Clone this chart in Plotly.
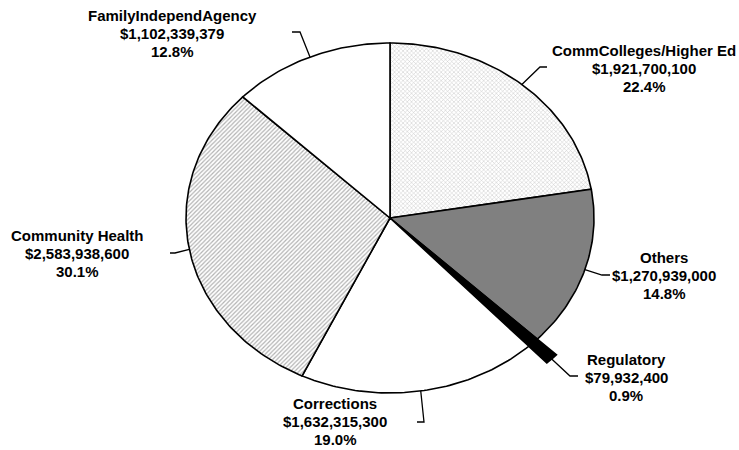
import numpy as np
import plotly.graph_objects as go

# ---- data ----
categories = ["CommColleges/Higher Ed", "Others", "Regulatory", "Corrections",
              "Community Health", "FamilyIndependAgency"]
values = [1921700100, 1270939000, 79932400, 1632315300, 2583938600, 1102339379]

# ---- styling / layout (pixel coordinates on hidden axes) ----
W, H = 739, 450
CX, CY, RX, RY = 390, 218, 204, 175
radius_scale = [1.0, 1.0, 1.13, 1.0, 1.0, 1.0]
fills = [
    dict(fillcolor="white", fillpattern=dict(shape="x", size=3, solidity=0.3, fgcolor="#8a8a8a", bgcolor="white")),
    dict(fillcolor="#808080", fillpattern=None),
    dict(fillcolor="black", fillpattern=None),
    dict(fillcolor="white", fillpattern=None),
    dict(fillcolor="white", fillpattern=dict(shape="/", size=3, solidity=0.4, fgcolor="#666666", bgcolor="white")),
    dict(fillcolor="white", fillpattern=None),
]
# leader elbow and end points, and label line centres
elbows = [(540, 67), (602, 275), (570, 376), (424, 422), (175, 253), (300, 32)]
ends = [(547, 67), (610, 275), (578, 376), (417, 422), (170, 253), (292, 32)]
label_x = [644, 664, 626, 335, 77, 172]
label_y = [50, 257, 359, 403, 235, 15]
LINE_H = 18

total = sum(values)
fig = go.Figure()


def pt(theta, r):
    return CX + RX * r * np.sin(theta), CY - RY * r * np.cos(theta)


cum = 0.0
for i, (cat, v) in enumerate(zip(categories, values)):
    frac = v / total
    t0 = 2 * np.pi * cum
    t1 = 2 * np.pi * (cum + frac)
    cum += frac
    th = np.linspace(t0, t1, max(4, int(400 * frac)))
    r = radius_scale[i]
    ax, ay = pt(th, r)
    xs = np.concatenate([[CX], ax, [CX]])
    ys = np.concatenate([[CY], ay, [CY]])
    kw = dict(x=xs, y=ys, mode="lines", fill="toself",
              line=dict(color="black", width=1.6),
              fillcolor=fills[i]["fillcolor"], hoverinfo="skip", showlegend=False)
    if fills[i]["fillpattern"] is not None:
        kw["fillpattern"] = fills[i]["fillpattern"]
    fig.add_trace(go.Scatter(**kw))

    # leader line from the arc mid-point
    tm = (t0 + t1) / 2
    mx, my = pt(tm, r)
    fig.add_trace(go.Scatter(x=[mx, elbows[i][0], ends[i][0]], y=[my, elbows[i][1], ends[i][1]],
                             mode="lines", line=dict(color="black", width=1.3),
                             hoverinfo="skip", showlegend=False))

    lines = [cat, "$" + format(v, ","), f"{100 * frac:.1f}%"]
    for k, txt in enumerate(lines):
        fig.add_annotation(x=label_x[i], y=label_y[i] + k * LINE_H, xref="x", yref="y",
                           text=txt, showarrow=False, xanchor="center", yanchor="middle",
                           font=dict(family="Liberation Sans, Arial", size=15, color="black", weight="bold"))

fig.update_layout(
    width=W, height=H, margin=dict(l=0, r=0, t=0, b=0),
    paper_bgcolor="white", plot_bgcolor="white",
    xaxis=dict(range=[0, W], visible=False, fixedrange=True),
    yaxis=dict(range=[H, 0], visible=False, fixedrange=True),
)
fig.write_html("out.html")
